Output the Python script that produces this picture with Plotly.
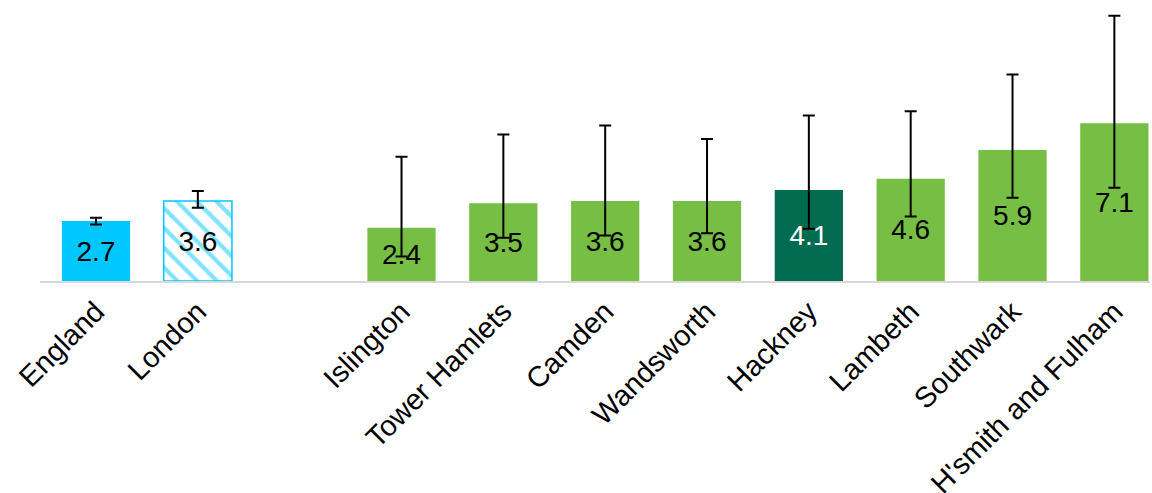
import plotly.graph_objects as go

categories = ["England", "London", "Islington", "Tower Hamlets", "Camden", "Wandsworth",
              "Hackney", "Lambeth", "Southwark", "H'smith and Fulham"]
positions = [0, 1, 3, 4, 5, 6, 7, 8, 9, 10]
values = [2.7, 3.6, 2.4, 3.5, 3.6, 3.6, 4.1, 4.6, 5.9, 7.1]
lower_ci = [2.55, 3.3, 1.1, 1.95, 2.05, 2.15, 2.35, 2.9, 3.75, 4.2]
upper_ci = [2.85, 4.05, 5.6, 6.6, 7.0, 6.4, 7.45, 7.65, 9.3, 11.95]

ENG = "#00C8FF"
GREEN = "#77BE44"
DARK = "#006B4F"
colors = [ENG, "white", GREEN, GREEN, GREEN, GREEN, DARK, GREEN, GREEN, GREEN]
text_colors = ["black"] * 6 + ["white"] + ["black"] * 3
FONT = "Liberation Sans, Arial, Helvetica, sans-serif"

fig = go.Figure()

main_idx = [i for i in range(len(values)) if categories[i] != "London"]
lon = categories.index("London")

fig.add_trace(go.Bar(
    x=[positions[i] for i in main_idx],
    y=[values[i] for i in main_idx],
    width=0.67,
    marker=dict(color=[colors[i] for i in main_idx], line=dict(width=0)),
    text=[f"{values[i]:.1f}" for i in main_idx],
    textposition="inside",
    insidetextanchor="middle",
    textangle=0,
    textfont=dict(size=28, color=[text_colors[i] for i in main_idx], family=FONT),
    error_y=dict(type="data", symmetric=False,
                 array=[upper_ci[i] - values[i] for i in main_idx],
                 arrayminus=[values[i] - lower_ci[i] for i in main_idx],
                 color="black", thickness=2, width=6),
    showlegend=False,
    hoverinfo="skip",
))

fig.add_trace(go.Bar(
    x=[positions[lon]],
    y=[values[lon]],
    width=0.67,
    marker=dict(color="white", line=dict(width=1.5, color=ENG),
                pattern=dict(shape="\\", fgcolor=ENG, bgcolor="white",
                             size=14, solidity=0.3, fillmode="overlay")),
    text=[f"{values[lon]:.1f}"],
    textposition="inside",
    insidetextanchor="middle",
    textangle=0,
    textfont=dict(size=28, color="black", family=FONT),
    error_y=dict(type="data", symmetric=False,
                 array=[upper_ci[lon] - values[lon]],
                 arrayminus=[values[lon] - lower_ci[lon]],
                 color="black", thickness=2, width=6),
    showlegend=False,
    hoverinfo="skip",
))

fig.update_layout(
    width=1152, height=493,
    margin=dict(l=40, r=2, t=5, b=212),
    paper_bgcolor="white", plot_bgcolor="white",
    barmode="overlay",
    font=dict(family=FONT, size=29, color="black"),
    xaxis=dict(range=[-0.55, 10.35], tickvals=positions, ticktext=categories,
               tickangle=-45, showgrid=False, zeroline=False,
               showline=True, linecolor="#d9d9d9", linewidth=2,
               ticks="", tickfont=dict(size=29), automargin=False),
    yaxis=dict(range=[0, 12.43], visible=False, showgrid=False, zeroline=False),
)

fig.write_html("out.html", config={"displayModeBar": False},
               post_script="document.body.style.margin='0';")
